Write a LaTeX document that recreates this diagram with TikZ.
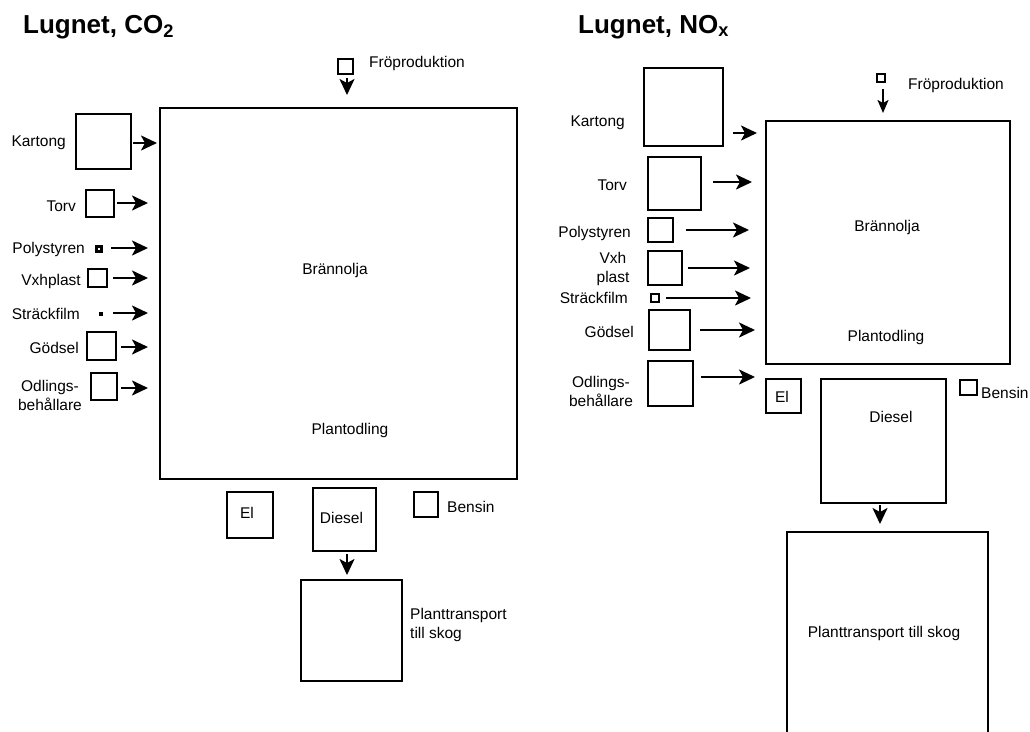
\documentclass[tikz,border=0pt]{standalone}
\usepackage{fontspec}
\setmainfont{Liberation Sans}
\usetikzlibrary{arrows.meta}
\newcommand\lbfont{\fontsize{15.5}{19}\selectfont}
\newcommand\ttfont{\fontsize{26}{30}\selectfont\bfseries}
\tikzset{
  box/.style={draw, line width=2.2pt, inner sep=0pt},
  dotbox/.style={fill=black, inner sep=0pt, minimum size=4pt},
  lbl/.style={inner sep=0pt, font=\lbfont},
  ttl/.style={inner sep=0pt, font=\ttfont, anchor=base west},
  arr/.style={line width=2.2pt, -{Stealth[length=16pt,width=15pt,inset=4pt]}},
  arrs/.style={line width=2.2pt, -{Stealth[length=13pt,width=11pt,inset=3pt]}},
}
% box: name, cx, cy, w, h
\newcommand\bx[5]{\node[box,minimum width=#4pt,minimum height=#5pt] (#1) at (#2,#3) {};}
% horizontal arrow: name, x1, x2, y
\newcommand\harr[4]{\coordinate (#1s) at (#2,#4); \coordinate (#1e) at (#3,#4); \draw[arr] (#1s) -- (#1e);}
% vertical arrow: name, x, y1, y2, style
\newcommand\varr[5]{\coordinate (#1s) at (#2,#3); \coordinate (#1e) at (#2,#4); \draw[#5] (#1s) -- (#1e);}
\begin{document}
\begin{tikzpicture}[x=1pt,y=-1pt]
\clip (0,0) rectangle (1030,731);
\fill[white] (0,0) rectangle (1030,731);

% ---------------- Left panel: CO2 ----------------
\node[ttl] (t1) at (23,33) {Lugnet, CO\textsubscript{2}};

\bx{main1}{338.5}{293.5}{357}{371}
\node[lbl, anchor=base] (bra1) at (335,274) {Brännolja};
\node[lbl, anchor=base] (pla1) at (350,434) {Plantodling};

\bx{fro1}{345.5}{66.5}{15}{15}
\node[lbl, anchor=base west] (frol1) at (369,67) {Fröproduktion};
\varr{fa1}{347}{78}{95}{arr}

\bx{kart1}{103.5}{141.5}{55}{55}
\node[lbl, anchor=base east] (kartl1) at (66,146) {Kartong};
\harr{ka1}{133}{157}{143}

\bx{torv1}{100}{203.5}{28}{27}
\node[lbl, anchor=base east] (torvl1) at (76,211) {Torv};
\harr{ta1}{117}{148}{203}

\bx{poly1}{99}{249}{5}{5}
\node[lbl, anchor=base east] (polyl1) at (85,253) {Polystyren};
\harr{pa1}{111}{148}{248}

\bx{vxh1}{97.5}{278}{19}{18}
\node[lbl, anchor=base east] (vxhl1) at (81,285) {Vxhplast};
\harr{va1}{113}{148}{278}

\node[dotbox] (str1) at (100.5,313.5) {};
\node[lbl, anchor=base east] (strl1) at (80,319) {Sträckfilm};
\harr{sa1}{113}{148}{313}

\bx{god1}{101.5}{346}{29}{28}
\node[lbl, anchor=base east] (godl1) at (79,353) {Gödsel};
\harr{ga1}{121}{148}{347}

\bx{odl1}{104}{386.5}{26}{27}
\node[lbl, align=center] (odll1) at (50,395) {Odlings-\\behållare};
\harr{oa1}{121}{148}{388}

\bx{el1}{250}{515}{46}{46}
\node[lbl, anchor=base] (ell1) at (247,518) {El};

\bx{die1}{344.5}{519.5}{63}{63}
\node[lbl, anchor=base] (diel1) at (341.5,523) {Diesel};
\varr{da1}{347}{554}{575}{arr}

\bx{ben1}{426}{504.5}{24}{25}
\node[lbl, anchor=base west] (benl1) at (447,512) {Bensin};

\bx{pt1}{351.5}{630.5}{101}{101}
\node[lbl, align=left, anchor=west] (ptl1) at (410,624.5) {Planttransport\\till skog};

% ---------------- Right panel: NOx ----------------
\node[ttl] (t2) at (578,33) {Lugnet, NO\textsubscript{x}};

\bx{main2}{888}{242.5}{244}{243}
\node[lbl, anchor=base] (bra2) at (887,231) {Brännolja};
\node[lbl, anchor=base] (pla2) at (886,341) {Plantodling};

\bx{fro2}{881}{78}{8}{8}
\node[lbl, anchor=base west] (frol2) at (908,89) {Fröproduktion};
\varr{fa2}{883}{89}{113}{arrs}

\bx{kart2}{683.5}{107}{79}{78}
\node[lbl, anchor=base east] (kartl2) at (625,126) {Kartong};
\harr{ka2}{733}{757}{133}

\bx{torv2}{674.5}{183.5}{53}{53}
\node[lbl, anchor=base east] (torvl2) at (627,190) {Torv};
\harr{ta2}{713}{752}{182}

\bx{poly2}{660.5}{230}{25}{24}
\node[lbl, anchor=base east] (polyl2) at (631,237) {Polystyren};
\harr{pa2}{686}{749}{230}

\bx{vxh2}{665}{268}{34}{34}
\node[lbl, align=center] (vxhl2) at (613,268.5) {Vxh\\plast};
\harr{va2}{688}{750}{268}

\bx{str2}{655}{298}{8}{8}
\node[lbl, anchor=base east] (strl2) at (628,303) {Sträckfilm};
\harr{sa2}{666}{751}{298}

\bx{god2}{669.5}{330}{41}{40}
\node[lbl, anchor=base east] (godl2) at (634,337) {Gödsel};
\harr{ga2}{700}{755}{330}

\bx{odl2}{670.5}{383.5}{45}{45}
\node[lbl, align=center] (odll2) at (601,391) {Odlings-\\behållare};
\harr{oa2}{701}{755}{377}

\bx{el2}{783.5}{396}{35}{34}
\node[lbl, anchor=base] (ell2) at (782,402) {El};

\bx{die2}{883.5}{441}{125}{124}
\node[lbl, anchor=base] (diel2) at (891,422) {Diesel};
\varr{da2}{880}{505}{524}{arr}

\bx{ben2}{968.5}{387.5}{17}{15}
\node[lbl, anchor=base west] (benl2) at (981,398) {Bensin};

\bx{pt2}{887.5}{656}{201}{248}
\node[lbl, anchor=base] (ptl2) at (884,637) {Planttransport till skog};
\end{tikzpicture}
\end{document}
